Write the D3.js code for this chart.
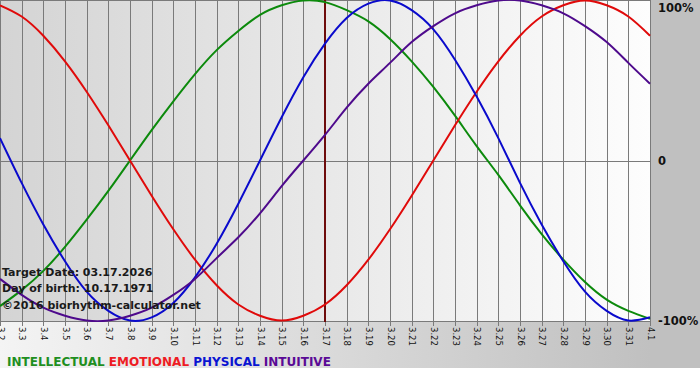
<!DOCTYPE html>
<html>
<head>
<meta charset="utf-8">
<script src="https://cdn.jsdelivr.net/npm/d3@7"></script>
<style>
  html, body { margin: 0; padding: 0; background: #fff; }
  svg { display: block; font-family: "DejaVu Sans", Verdana, sans-serif; }
</style>
</head>
<body>
<div id="chart"></div>
<script>
// day labels, 3.2 .. 4.1
var days = ["3.2","3.3","3.4","3.5","3.6","3.7","3.8","3.9","3.10","3.11","3.12","3.13","3.14","3.15","3.16",
	"3.17","3.18","3.19","3.20","3.21","3.22","3.23","3.24","3.25","3.26","3.27","3.28","3.29","3.30","3.31","4.1"];

// values in percent, one per day
var intellectual = [-91,-81,-69,-54,-37,-19,0,19,37,54,69,81,91,97,100,99,94,87,76,62,46,28,9,-9,-28,-46,-62,-76,-87,-94,-99];
var emotional = [97,90,78,62,43,22,0,-22,-43,-62,-78,-90,-97,-100,-97,-90,-78,-62,-43,-22,0,22,43,62,78,90,97,100,97,90,78];
var physical = [14,-14,-40,-63,-82,-94,-100,-98,-89,-73,-52,-27,0,27,52,73,89,98,100,94,82,63,40,14,-14,-40,-63,-82,-94,-100,-98];
var intuitive = [-74,-84,-92,-97,-100,-100,-97,-92,-84,-74,-61,-48,-33,-16,0,16,33,48,61,74,84,92,97,100,100,97,92,84,74,61,48];

var targetDay = "3.17";
var yTicks = [{v: 100, t: "100%"}, {v: 0, t: "0"}, {v: -100, t: "-100%"}];

var series = [
	{name: "INTELLECTUAL", values: intellectual, line: "#0c8a0c", text: "#1f8f1f"},
	{name: "EMOTIONAL", values: emotional, line: "#e00a0a", text: "#ee1c24"},
	{name: "PHYSICAL", values: physical, line: "#0a0acc", text: "#0a14d2"},
	{name: "INTUITIVE", values: intuitive, line: "#4e0a8c", text: "#5a0a96"}
];

var width = 700,
	height = 380,
	plotW = 650,
	plotH = 322;

var svg = d3.select("#chart").append("svg")
	.attr("width", width)
	.attr("height", height);

var defs = svg.append("defs");
var g1 = defs.append("linearGradient").attr("id", "bgOuter").attr("x1", 0).attr("x2", 1).attr("y1", 0).attr("y2", 0);
g1.append("stop").attr("offset", "0%").attr("stop-color", "#f4f4f4");
g1.append("stop").attr("offset", "93%").attr("stop-color", "#c0c0c0");
g1.append("stop").attr("offset", "100%").attr("stop-color", "#c0c0c0");

var g2 = defs.append("linearGradient").attr("id", "bgPlot").attr("x1", 0).attr("x2", 1).attr("y1", 0).attr("y2", 0);
g2.append("stop").attr("offset", "0%").attr("stop-color", "#d4d4d4");
g2.append("stop").attr("offset", "100%").attr("stop-color", "#fdfdfd");

defs.append("clipPath").attr("id", "plotClip")
	.append("rect").attr("x", 0).attr("y", 0).attr("width", plotW + 1).attr("height", plotH);

svg.append("rect").attr("x", 0).attr("y", 0).attr("width", width).attr("height", 368).attr("fill", "url(#bgOuter)");
svg.append("rect").attr("x", 0).attr("y", 0).attr("width", plotW).attr("height", plotH).attr("fill", "url(#bgPlot)");

var x = d3.scalePoint()
	.domain(days)
	.range([0, plotW]);

var y = d3.scaleLinear()
	.domain([-100, 100])
	.range([320.5, 0.5]);

// ticks and rotated day labels
var xAxis = d3.axisBottom(x).tickSize(4);
var gx = svg.append("g")
	.attr("transform", "translate(0," + plotH + ")")
	.call(xAxis);
gx.select(".domain").remove();
gx.selectAll(".tick line").attr("stroke", "#7a7a7a").attr("shape-rendering", "crispEdges");
gx.selectAll(".tick text")
	.attr("transform", "rotate(90)")
	.attr("x", 5)
	.attr("y", 0)
	.attr("dy", "0.35em")
	.attr("text-anchor", "start")
	.attr("font-size", 8.5)
	.attr("font-family", "DejaVu Sans, sans-serif")
	.attr("fill", "#111");

// vertical grid
svg.append("g")
	.selectAll("line")
	.data(days)
	.join("line")
	.attr("x1", function (d) { return Math.round(x(d)) + 0.5; })
	.attr("x2", function (d) { return Math.round(x(d)) + 0.5; })
	.attr("y1", 0)
	.attr("y2", plotH)
	.attr("stroke", "#7a7a7a")
	.attr("stroke-width", 1);

// top, bottom and zero lines
svg.append("line").attr("x1", 0).attr("x2", plotW).attr("y1", 0.5).attr("y2", 0.5).attr("stroke", "#7a7a7a");
svg.append("line").attr("x1", 0).attr("x2", plotW).attr("y1", plotH - 0.5).attr("y2", plotH - 0.5).attr("stroke", "#7a7a7a");
svg.append("line").attr("x1", 0).attr("x2", plotW).attr("y1", Math.round(y(0)) + 0.5).attr("y2", Math.round(y(0)) + 0.5).attr("stroke", "#7a7a7a");

// target date marker
svg.append("line")
	.attr("x1", x(targetDay)).attr("x2", x(targetDay))
	.attr("y1", 0).attr("y2", plotH)
	.attr("stroke", "#6e0c0c")
	.attr("stroke-width", 2);

var line = d3.line()
	.x(function (d, i) { return x(days[i]); })
	.y(function (d) { return y(d); })
	.curve(d3.curveNatural);

svg.append("g")
	.attr("clip-path", "url(#plotClip)")
	.selectAll("path")
	.data(series)
	.join("path")
	.attr("d", function (d) { return line(d.values); })
	.attr("fill", "none")
	.attr("stroke", function (d) { return d.line; })
	.attr("stroke-width", 2);

// y labels
svg.append("g")
	.selectAll("text")
	.data(yTicks)
	.join("text")
	.attr("x", 658)
	.attr("y", function (d) { return d.v === 100 ? 12 : y(d.v); })
	.attr("dy", function (d) { return d.v === 100 ? 0 : "0.35em"; })
	.attr("font-size", 11.5)
	.attr("font-weight", "bold")
	.attr("fill", "#111")
	.text(function (d) { return d.t; });

// info text
var info = ["Target Date: 03.17.2026", "Day of birth: 10.17.1971", "\u00a92016 biorhythm-calculator.net"];
var infoY = [276, 292, 309];
svg.append("g")
	.selectAll("text")
	.data(info)
	.join("text")
	.attr("x", 2)
	.attr("y", function (d, i) { return infoY[i]; })
	.attr("font-size", 11)
	.attr("font-weight", "bold")
	.attr("fill", "#1a1a1a")
	.text(function (d) { return d; });

// legend
var legend = svg.append("text")
	.attr("x", 7)
	.attr("y", 366)
	.attr("font-size", 12)
	.attr("font-weight", "bold")
	.attr("xml:space", "preserve");
series.forEach(function (s, i) {
	legend.append("tspan")
		.attr("fill", s.text)
		.text((i > 0 ? " " : "") + s.name);
});
</script>
</body>
</html>
